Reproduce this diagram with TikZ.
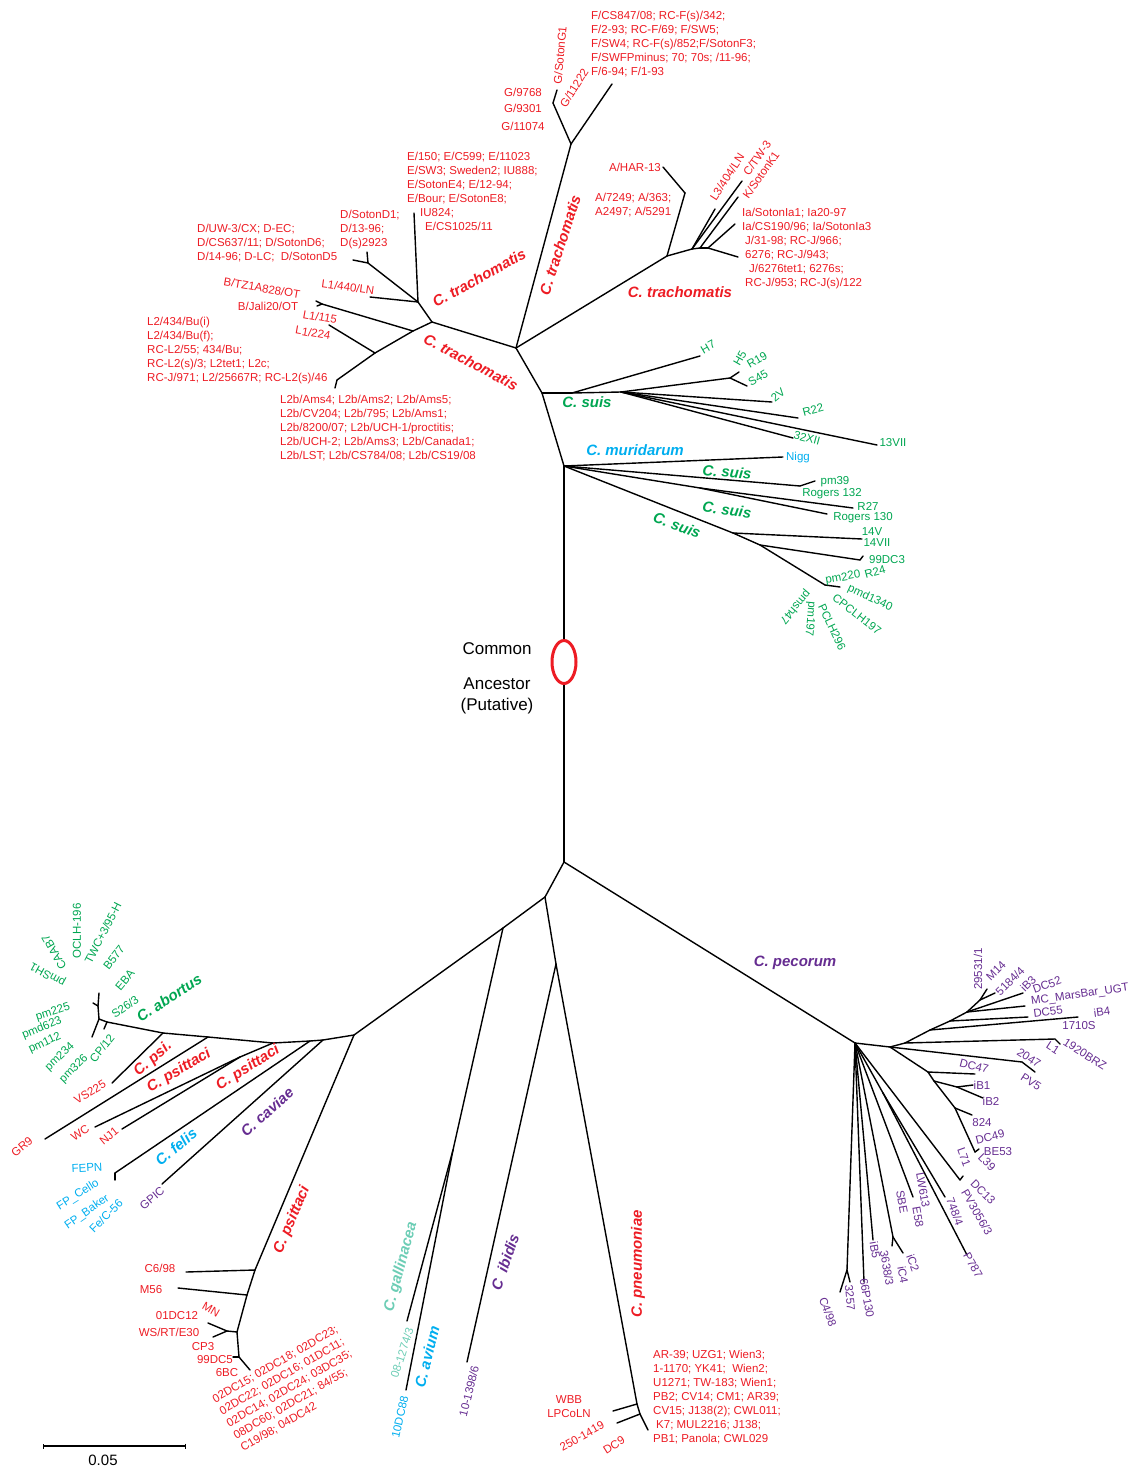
\documentclass[tikz,border=0pt]{standalone}
\usepackage{fontspec}
\setmainfont{Liberation Sans}
\usepackage{xcolor}
\definecolor{cRed}{HTML}{ED1C24}
\definecolor{cGreen}{HTML}{00A651}
\definecolor{cBlue}{HTML}{00AEEF}
\definecolor{cPurple}{HTML}{662D91}
\definecolor{cTeal}{HTML}{6CCDB5}
\usepackage{tikz}
\usetikzlibrary{arrows.meta,shapes.geometric}
\tikzset{
  tree-branch/.style={line width=1.4pt,line cap=round,line join=round},
  lab-strain/.style={font=\fontsize{11.5}{14}\selectfont,inner sep=0pt},
  lab-block/.style={lab-strain,align=left,anchor=north west},
  lab-species/.style={font=\fontsize{15}{18}\selectfont\bfseries\itshape,inner sep=0pt},
  lab-root/.style={font=\fontsize{17}{21}\selectfont,inner sep=0pt,align=center},
  tx-red/.style={text=cRed},
  tx-green/.style={text=cGreen},
  tx-blue/.style={text=cBlue},
  tx-purple/.style={text=cPurple},
  tx-teal/.style={text=cTeal},
}

\begin{document}
\begin{tikzpicture}[x=1pt,y=-1pt]
  \useasboundingbox (0,0) rectangle (1135,1469);

  % tree nodes and tips (pixel grid of the figure)
  \foreach \n/\x/\y in {tTop/564/466, tBot/564/862,
      nTra/516/348, nGF/571/144, nG/553/103, tG/557/90, tF/612/84,
      nAJ/667/256, nA/685/193, tA/663/167, nJa/692/249, nJb/700/248, nJc/708/248,
      tL3/715/209, tC/742/181, tK/738/197, tIa/735/224, tJ/738/257,
      nT2/432/322, nE0/418/302, tE/414/213, tL440/370/297, nD/368/263, tD1/353/260, tD2/367/252,
      nB0/413/331, nBf/322/304, tB1/316/301, tB2/317/306, nL2/375/353, tL1/329/325,
      nL2b/337/380, tL2b/335/388,
      nSuA/542/393, nSuH/572/393, nSuB/621/392, tH7/700/356, nH5/730/378, tH5/739/372,
      tS45/747/386, t2V/772/402, tR22/798/418, t32/793/438, t13/877/445, tNigg/783/457,
      nPm/800/486, tPm/815/481, nR/700/488, tR27/853/508, tRo/827/514,
      nS4/733/533, t14/862/539, nS5/760/545, n99/860/560, t99/863/556, nS6/825/585, tPm220/840/587,
      nB1/545/897, nB3/556/964, nGAx/503/928, nB2/354/1035, nGA/453/1150, tGal/407/1321,
      tAv/406/1390, tIb/467/1362, nP1/637/1404, nP2/640/1414, tP/648/1430, tWBB/613/1411,
      t250/617/1423,
      nH1/323/1040, nH2/310/1041, nH3/273/1043, nH4/208/1037, nVS/163/1033, nAbC/107/1022,
      nAb/99/1019, nWN/240/1057, tWC/95/1127, tNJ/122/1129, tGR/45/1139, tVS/112/1083,
      tFel/115/1173, tFel2/115/1180, tGP/162/1184, nAbU/98/1006, tAbU/99/993, tAbU2/93/1003,
      tAbD/92/1037, tAbC/104/1029,
      nPs1/255/1270, tC6/186/1272, nPs2/247/1295, tM56/178/1288, nPs3/237/1332, nPsf/227/1331,
      tMN/208/1323, tWS/213/1337, nPs4/239/1357, t6BC/250/1370, tCP3/233/1357,
      nPec/855/1043, nPc1/890/1047, nPc2/905/1043, nPc3/930/1030, nPc4/950/1021, nPc5/967/1012,
      t2047/1022/1062, tPV5/1035/1072, tL1p/1055/1039, tL1q/1060/1044, tIB4/1078/1017,
      tDC55/1028/1017, tMC/1025/1006, tDC52/1023/993, n295/980/1000, t295/987/989, tM14/995/993,
      nDA/928/1072, tDC47/975/1074, nDB/934/1081, nIB/957/1087, tIB1/973/1085, tIB2/983/1098,
      nDD/955/1108, t824/972/1115, tBE/975/1152, tBE2/979/1149,
      nDC13/960/1180, tDC13/963/1176, nQ2/883/1093, t748/945/1197, tP787/967/1255,
      tLW/913/1197, nIC/893/1237, tIC2/903/1253, tIC4/892/1246, tIB5/873/1240,
      t66/864/1282, nC4/847/1270, tC4/840/1292, t3257/850/1282}
    \coordinate (\n) at (\x,\y);

  % branches
  \foreach \a/\b in {tTop/tBot, tTop/tNigg, tTop/nSuA,
      nSuA/nSuH, nSuH/nSuB, nSuH/tH7, nSuB/nH5, nH5/tH5, nH5/tS45, nSuB/t2V, nSuB/tR22,
      nSuB/t32, nSuB/t13, tTop/nPm, nPm/tPm, tTop/nR, nR/tR27, nR/tRo,
      tTop/nS4, nS4/t14, nS4/nS5, nS5/n99, n99/t99, nS5/nS6, nS6/tPm220,
      nSuA/nTra, nTra/nGF, nGF/nG, nG/tG, nGF/tF,
      nTra/nAJ, nAJ/nA, nA/tA, nAJ/nJa, nJa/nJb, nJb/nJc, nJa/tL3, nJa/tC, nJb/tK,
      nJc/tIa, nJc/tJ,
      nTra/nT2, nT2/nE0, nE0/tE, nE0/tL440, nE0/nD, nD/tD1, nD/tD2,
      nT2/nB0, nB0/nBf, nBf/tB1, nBf/tB2, nB0/nL2, nL2/tL1, nL2/nL2b, nL2b/tL2b,
      tBot/nPec, tBot/nB1, nB1/nB3, nB1/nGAx, nGAx/nB2, nGAx/nGA, nGA/tGal, nGA/tAv,
      nB3/tIb, nB3/nP1, nP1/nP2, nP2/tP, nP1/tWBB, nP2/t250,
      nB2/nH1, nH1/nH2, nH2/nH3, nH3/nH4, nH4/nVS, nVS/nAbC, nAbC/nAb,
      nH1/tGP, nH2/tFel, tFel/tFel2, nH3/nWN, nWN/tWC, nWN/tNJ, nH4/tGR, nVS/tVS,
      nAb/nAbU, nAbU/tAbU, nAbU/tAbU2, nAb/tAbD, nAbC/tAbC,
      nB2/nPs1, nPs1/tC6, nPs1/nPs2, nPs2/tM56, nPs2/nPs3, nPs3/nPsf, nPsf/tMN,
      nPsf/tWS, nPs3/nPs4, nPs4/t6BC, nPs4/tCP3,
      nPec/nPc1, nPc1/t2047, t2047/tPV5, nPc1/nPc2, nPc2/nPc3, nPc3/nPc4, nPc4/nPc5,
      nPc2/tL1p, tL1p/tL1q, nPc3/tIB4, nPc4/tDC55, nPc5/tMC, nPc5/tDC52, nPc5/n295,
      n295/t295, n295/tM14,
      nPc1/nDA, nDA/tDC47, nDA/nDB, nDB/nIB, nIB/tIB1, nIB/tIB2, nDB/nDD, nDD/t824,
      nDD/tBE, tBE/tBE2,
      nPec/nDC13, nDC13/tDC13, nPec/nQ2, nQ2/t748, nQ2/tP787, nPec/tLW, nPec/nIC,
      nIC/tIC2, nIC/tIC4, nPec/tIB5, nPec/t66, nPec/nC4, nC4/tC4, nC4/t3257}
    \draw[tree-branch] (\a) -- (\b);

  % putative root
  \node[ellipse,draw=cRed,line width=3pt,fill=white,minimum width=24pt,
    minimum height=43pt,inner sep=0pt] (anc) at (564,662) {};
  \node[lab-root] (anc-top) at (497,649) {Common};
  \node[lab-root] (anc-bot) at (497,696) {Ancestor\\(Putative)};

  % strain labels
  \foreach \x/\y/\r/\t [count=\i] in {523/92/0/{G/9768}, 523/108/0/{G/9301},
      523/126/0/{G/11074}, 560/55/85/{G/SotonG1}, 574/88/58/{G/11222},
      635/167/0/{A/HAR-13}, 727/177/57/{L3/404/LN}, 757/158/55/{C/TW-3},
      761/175/55/{K/SotonK1}, 348/287/-8/{L1/440/LN}, 262/288/-10/{B/TZ1A828/OT},
      268/306/0/{B/Jali20/OT}, 320/317/-10/{L1/115}, 313/333/-10/{L1/224},
      90/1092/31/{VS225}, 22/1147/40/{GR9}, 80/1133/34/{WC}, 109/1136/39/{NJ1},
      160/1268/0/{C6/98}, 151/1290/0/{M56}, 211/1310/-30/{MN}, 177/1316/0/{01DC12},
      169/1332/0/{WS/RT/E30}, 203/1347/0/{CP3}, 215/1360/0/{99DC5}, 227/1373/0/{6BC},
      569/1400/0/{WBB}, 569/1414/0/{LPCoLN}, 582/1436/29/{250-1419}, 614/1445/32/{DC9}}
    \node[lab-strain,tx-red,rotate=\r] (red-\i) at (\x,\y) {\t};
  \foreach \x/\y/\r/\t [count=\i] in {708/347/30/{H7}, 740/358/60/{H5}, 757/360/30/{R19},
      758/378/30/{S45}, 778/395/40/{2V}, 813/410/15/{R22}, 807/438/-15/{32XII},
      893/443/0/{13VII}, 835/482/0/{pm39}, 832/494/0/{Rogers 132}, 868/506/0/{R27},
      863/518/0/{Rogers 130}, 872/532/0/{14V}, 877/543/0/{14VII}, 887/560/0/{99DC3},
      875/572/15/{R24}, 843/578/10/{pm220}, 870/598/-25/{pmd1340}, 857/614/-38/{CPCLH197},
      832/627/-65/{PCLH296}, 810/619/-95/{pm197}, 795/607/-130/{pmsh47},
      48/974/151/{pmSH1}, 54/952/120/{CAAB7}, 77/931/90/{OCLH-196},
      103/933/63/{TWC+3/95-H}, 114/958/52/{B577}, 125/980/50/{EBA}, 125/1007/35/{S26/3},
      53/1012/18/{pm225}, 42/1028/22/{pmd623}, 45/1043/25/{pm112}, 60/1057/43/{pm234},
      74/1069/45/{pm326}, 102/1048/51/{CP/12}}
    \node[lab-strain,tx-green,rotate=\r] (grn-\i) at (\x,\y) {\t};
  \foreach \x/\y/\r/\t [count=\i] in {798/458/0/{Nigg}, 87/1168/3/{FEPN},
      78/1195/32/{FP\_Cello}, 87/1212/35/{FP\_Baker}, 106/1216/45/{Fe/C-56},
      400/1417/77/{10DC88}}
    \node[lab-strain,tx-blue,rotate=\r] (blu-\i) at (\x,\y) {\t};
  \node[lab-strain,tx-teal,rotate=72] (teal-1) at (402,1353) {08-1274/3};
  \foreach \x/\y/\r/\t [count=\i] in {152/1198/40/{GPIC}, 469/1391/76/{10-1398/6},
      978/969/90/{29531/1}, 996/971/45/{M14}, 1010/981/45/{5184/4}, 1028/984/45/{iB3},
      1047/985/20/{DC52}, 1080/995/8/{MC\_MarsBar\_UGT}, 1048/1012/8/{DC55},
      1102/1012/8/{iB4}, 1079/1026/0/{1710S}, 1085/1054/-33/{1920BRZ}, 1053/1048/-33/{L1},
      1029/1058/-33/{2047}, 1031/1082/-33/{PV5}, 974/1066/-15/{DC47}, 982/1085/0/{iB1},
      991/1101/0/{iB2}, 982/1123/0/{824}, 990/1137/15/{DC49}, 998/1152/0/{BE53},
      964/1157/-70/{L71}, 987/1162/-45/{L39}, 983/1192/-45/{DC13}, 977/1212/-60/{PV3056/3},
      955/1212/-70/{748/4}, 923/1190/-80/{LW613}, 902/1202/-80/{SBE}, 918/1217/-80/{E58},
      973/1265/-60/{P787}, 913/1263/-70/{iC2}, 903/1275/-80/{iC4}, 887/1268/-80/{3638/3},
      875/1250/-80/{iB5}, 867/1298/-80/{66P130}, 850/1298/-85/{3257}, 828/1312/-70/{C4/98}}
    \node[lab-strain,tx-purple,rotate=\r] (pur-\i) at (\x,\y) {\t};

  % grouped strain lists
  \node[lab-block,tx-red] (blk-F) at (591,10.5) {F/CS847/08; RC-F(s)/342;\\F/2-93; RC-F/69; F/SW5;\\F/SW4; RC-F(s)/852;F/SotonF3;\\F/SWFPminus; 70; 70s; /11-96;\\F/6-94; F/1-93};
  \node[lab-block,tx-red] (blk-A) at (595,192.5) {A/7249; A/363;\\A2497; A/5291};
  \node[lab-block,tx-red] (blk-J) at (742,207.5) {Ia/SotonIa1; Ia20-97\\Ia/CS190/96; Ia/SotonIa3\\\hspace*{3pt}J/31-98; RC-J/966;\\\hspace*{3pt}6276; RC-J/943;\\\hspace*{7pt}J/6276tet1; 6276s;\\\hspace*{3pt}RC-J/953; RC-J(s)/122};
  \node[lab-block,tx-red] (blk-E) at (407,151.5) {E/150; E/C599; E/11023\\E/SW3; Sweden2; IU888;\\E/SotonE4; E/12-94;\\E/Bour; E/SotonE8;\\\hspace*{13pt}IU824;\\\hspace*{18pt}E/CS1025/11};
  \node[lab-block,tx-red] (blk-D1) at (340,209.5) {D/SotonD1;\\D/13-96;\\D(s)2923};
  \node[lab-block,tx-red] (blk-D2) at (197,223.5) {D/UW-3/CX; D-EC;\\D/CS637/11; D/SotonD6;\\D/14-96; D-LC;\ \ D/SotonD5};
  \node[lab-block,tx-red] (blk-L2) at (147,316.5) {L2/434/Bu(i)\\L2/434/Bu(f);\\RC-L2/55; 434/Bu;\\RC-L2(s)/3; L2tet1; L2c;\\RC-J/971; L2/25667R; RC-L2(s)/46};
  \node[lab-block,tx-red] (blk-L2b) at (280,394.5) {L2b/Ams4; L2b/Ams2; L2b/Ams5;\\L2b/CV204; L2b/795; L2b/Ams1;\\L2b/8200/07; L2b/UCH-1/proctitis;\\L2b/UCH-2; L2b/Ams3; L2b/Canada1;\\L2b/LST; L2b/CS784/08; L2b/CS19/08};
  \node[lab-block,tx-red,rotate=30] (blk-DC) at (211,1396) {02DC15; 02DC18; 02DC23;\\02DC22; 02DC16; 01DC11;\\02DC14; 02DC24; 03DC35;\\08DC60; 02DC21; 84/55;\\C19/98; 04DC42};
  \node[lab-block,tx-red] (blk-AR) at (653,1349.5) {AR-39; UZG1; Wien3;\\1-1170; YK41;\ \ Wien2;\\U1271; TW-183; Wien1;\\PB2; CV14; CM1; AR39;\\CV15; J138(2); CWL011;\\\hspace*{3pt}K7; MUL2216; J138;\\PB1; Panola; CWL029};

  % species
  \foreach \x/\y/\r/\t [count=\i] in {560/245/72/{C. trachomatis}, 479/278/29/{C. trachomatis},
      471/362/-28/{C. trachomatis}, 680/292/0/{C. trachomatis}, 153/1059/41/{C. psi.},
      179/1071/31/{C. psittaci}, 248/1068/32/{C. psittaci}, 292/1220/67/{C. psittaci},
      638/1264/90/{C. pneumoniae}}
    \node[lab-species,tx-red,rotate=\r] (sp-red-\i) at (\x,\y) {\t};
  \foreach \x/\y/\r/\t [count=\i] in {587/402/0/{C. suis}, 727/472/-5/{C. suis},
      727/510/-8/{C. suis}, 677/525/-20/{C. suis}, 169/998/33/{C. abortus}}
    \node[lab-species,tx-green,rotate=\r] (sp-grn-\i) at (\x,\y) {\t};
  \foreach \x/\y/\r/\t [count=\i] in {635/450/0/{C. muridarum}, 176/1147/40/{C. felis},
      427/1357/76/{C. avium}}
    \node[lab-species,tx-blue,rotate=\r] (sp-blu-\i) at (\x,\y) {\t};
  \foreach \x/\y/\r/\t [count=\i] in {267/1112/42/{C. caviae}, 505/1262/71/{C\ \ ibidis},
      795/963/0/{C. pecorum}}
    \node[lab-species,tx-purple,rotate=\r] (sp-pur-\i) at (\x,\y) {\t};
  \node[lab-species,tx-teal,rotate=75] (sp-teal-1) at (401,1267) {C. gallinacea};

  % scale bar
  \coordinate (sbL) at (43,1446);
  \coordinate (sbR) at (186,1446);
  \draw[line width=1.2pt,{Bar[width=5pt]}-{Bar[width=5pt]}] (sbL) -- (sbR);
  \node[font=\fontsize{15}{18}\selectfont,inner sep=0pt] (sb-lab) at (103,1460) {0.05};
\end{tikzpicture}
\end{document}
